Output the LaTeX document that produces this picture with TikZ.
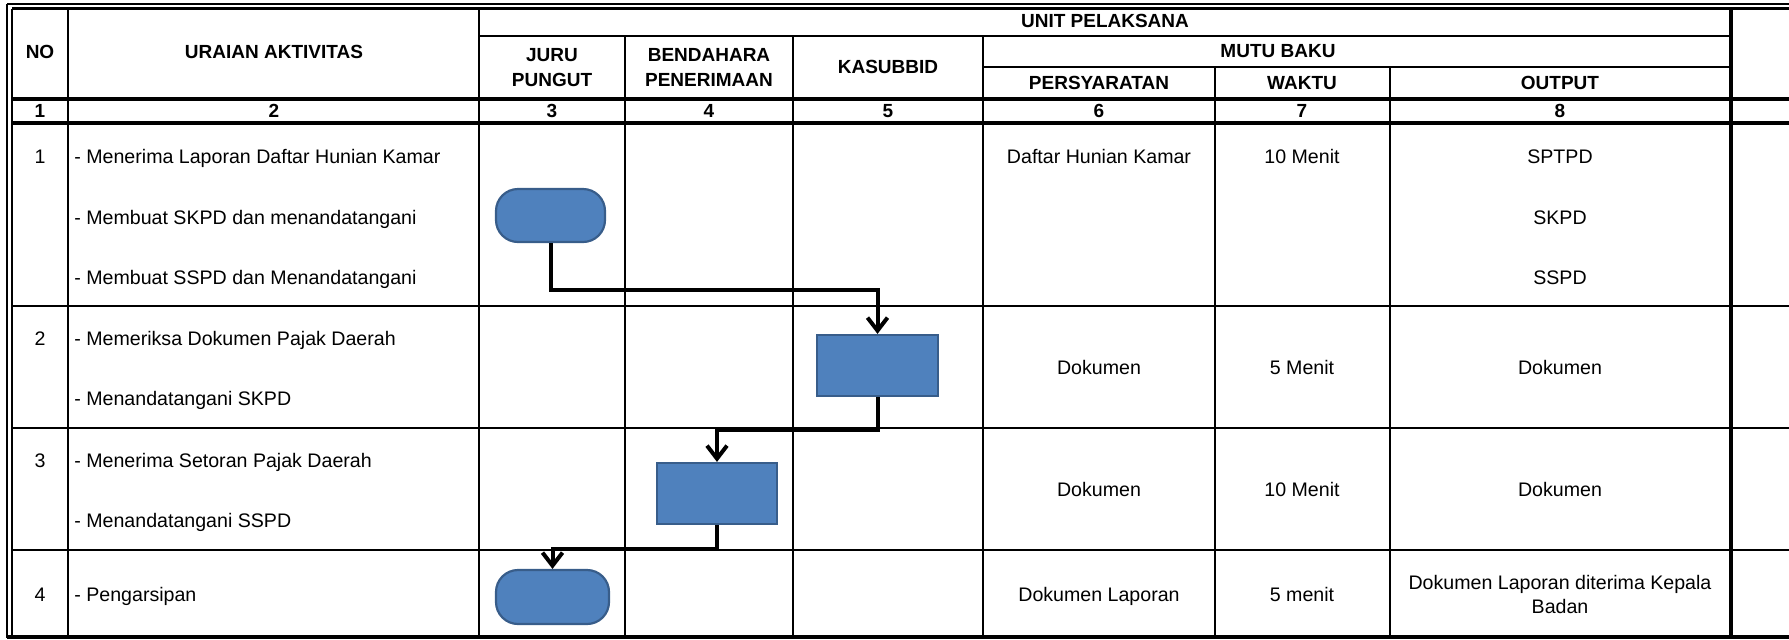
\documentclass[tikz,border=0pt]{standalone}
\usepackage{fontspec}
\setmainfont{Liberation Sans}
\usetikzlibrary{arrows.meta}
\definecolor{boxfill}{HTML}{4F81BD}
\definecolor{boxline}{HTML}{385D8A}
\begin{document}
\begin{tikzpicture}[x=0.5pt,y=-0.5pt,
  gridline/.style={line width=1pt},
  gridthick/.style={line width=1.6pt},
  hdr/.style={font=\fontsize{9.5}{12.5}\selectfont\bfseries, align=center, inner sep=0pt},
  hdrone/.style={hdr, text height=6.8pt, text depth=0pt},
  body/.style={font=\fontsize{9.8}{12}\selectfont, inner sep=0pt, text height=7pt, text depth=0pt},
  bodyl/.style={body, anchor=west},
  mline/.style={font=\fontsize{9.8}{12}\selectfont, align=center, inner sep=0pt},
  term/.style={draw=boxline, fill=boxfill, line width=1.1pt, rounded corners=11pt, minimum height=26.5pt, inner sep=0pt},
  proc/.style={draw=boxline, fill=boxfill, line width=1.1pt, minimum height=30.5pt, inner sep=0pt},
  conn/.style={line width=2pt, -{Straight Barb[length=6.5pt,width=10pt]}},
]
\useasboundingbox (0,0) rectangle (1789,639);

% outer double border
\draw[gridline] (7,4) -- (1789,4);
\draw[gridline] (7,4) -- (7,638);
\draw[gridthick] (12,8.5) -- (1789,8.5);
\draw[gridline] (12,8.5) -- (12,637);
\draw[gridthick] (7,637) -- (1789,637);

% vertical grid lines
\draw[gridline] (68,8.5) -- (68,637);
\draw[gridline] (479,8.5) -- (479,637);
\draw[gridline] (625,36) -- (625,637);
\draw[gridline] (793,36) -- (793,637);
\draw[gridline] (983,36) -- (983,637);
\draw[gridline] (1215,67) -- (1215,637);
\draw[gridline] (1390,67) -- (1390,637);
\draw[gridthick] (1731,8.5) -- (1731,637);

% horizontal grid lines
\draw[gridline] (479,36) -- (1731,36);
\draw[gridline] (983,67) -- (1731,67);
\draw[gridthick] (12,99) -- (1789,99);
\draw[gridthick] (12,123) -- (1789,123);
\draw[gridline] (12,306) -- (1789,306);
\draw[gridline] (12,428) -- (1789,428);
\draw[gridline] (12,550) -- (1789,550);

% header texts
\node[hdrone] (hno) at (40,52) {NO};
\node[hdrone] (hur) at (274,52) {URAIAN AKTIVITAS};
\node[hdrone] (hunit) at (1105,21) {UNIT PELAKSANA};
\node[hdr] (hjuru) at (552,67.5) {JURU\\PUNGUT};
\node[hdr] (hbend) at (709,67.5) {BENDAHARA\\PENERIMAAN};
\node[hdrone] (hkas) at (888,67) {KASUBBID};
\node[hdrone] (hmutu) at (1278,51) {MUTU BAKU};
\node[hdrone] (hpers) at (1099,83) {PERSYARATAN};
\node[hdrone] (hwak) at (1302,83) {WAKTU};
\node[hdrone] (hout) at (1560,83) {OUTPUT};

% column numbers
\node[hdrone] (n1) at (40,111) {1};
\node[hdrone] (n2) at (274,111) {2};
\node[hdrone] (n3) at (552,111) {3};
\node[hdrone] (n4) at (709,111) {4};
\node[hdrone] (n5) at (888,111) {5};
\node[hdrone] (n6) at (1099,111) {6};
\node[hdrone] (n7) at (1302,111) {7};
\node[hdrone] (n8) at (1560,111) {8};

% row 1
\node[body] (r1no) at (40,156) {1};
\node[bodyl] (r1a) at (74,156) {- Menerima Laporan Daftar Hunian Kamar};
\node[bodyl] (r1b) at (74,217) {- Membuat SKPD dan menandatangani};
\node[bodyl] (r1c) at (74,277) {- Membuat SSPD dan Menandatangani};
\node[body] (r1p) at (1099,156) {Daftar Hunian Kamar};
\node[body] (r1w) at (1302,156) {10 Menit};
\node[body] (r1o1) at (1560,156) {SPTPD};
\node[body] (r1o2) at (1560,217) {SKPD};
\node[body] (r1o3) at (1560,277) {SSPD};

% row 2
\node[body] (r2no) at (40,338) {2};
\node[bodyl] (r2a) at (74,338) {- Memeriksa Dokumen Pajak Daerah};
\node[bodyl] (r2b) at (74,398) {- Menandatangani SKPD};
\node[body] (r2p) at (1099,367) {Dokumen};
\node[body] (r2w) at (1302,367) {5 Menit};
\node[body] (r2o) at (1560,367) {Dokumen};

% row 3
\node[body] (r3no) at (40,460) {3};
\node[bodyl] (r3a) at (74,460) {- Menerima Setoran Pajak Daerah};
\node[bodyl] (r3b) at (74,520) {- Menandatangani SSPD};
\node[body] (r3p) at (1099,489) {Dokumen};
\node[body] (r3w) at (1302,489) {10 Menit};
\node[body] (r3o) at (1560,489) {Dokumen};

% row 4
\node[body] (r4no) at (40,594) {4};
\node[bodyl] (r4a) at (74,594) {- Pengarsipan};
\node[body] (r4p) at (1099,594) {Dokumen Laporan};
\node[body] (r4w) at (1302,594) {5 menit};
\node[mline] (r4o) at (1560,594) {Dokumen Laporan diterima Kepala\\Badan};

% flow shapes
\node[term, minimum width=54.5pt] (s1) at (550.5,215.5) {};
\node[proc, minimum width=60.5pt] (s2) at (877.5,365.5) {};
\node[proc, minimum width=60pt] (s3) at (717,493.5) {};
\node[term, minimum width=56.5pt, minimum height=27pt] (s4) at (552.5,597) {};

% connectors
\draw[conn] (s1.south) -- ++(0,47) -| (s2.north);
\draw[conn] (s2.south) -- ++(0,33) -| (s3.north);
\draw[conn] (s3.south) -- ++(0,24) -| (s4.north);
\end{tikzpicture}
\end{document}
